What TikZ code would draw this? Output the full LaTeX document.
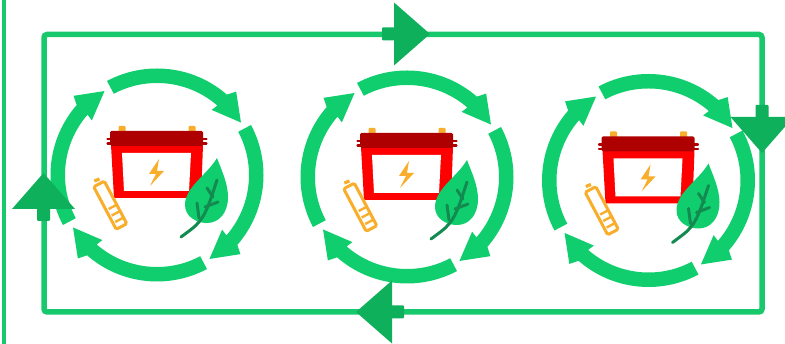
\documentclass[tikz,border=0pt]{standalone}
\usepackage{xcolor}
\usetikzlibrary{calc}
\definecolor{ringGreen}{RGB}{16,206,110}
\definecolor{loopGreen}{RGB}{24,200,108}
\definecolor{headGreen}{RGB}{15,176,92}
\definecolor{veinGreen}{RGB}{18,138,80}
\definecolor{lidRed}{RGB}{174,0,0}
\definecolor{bodyRed}{RGB}{255,0,0}
\definecolor{chargeOrange}{RGB}{249,174,43}
\tikzset{
  loopLine/.style={draw=loopGreen, line width=5.5pt, rounded corners=3pt},
  sideLine/.style={draw=loopGreen, line width=3.5pt},
  ringFill/.style={fill=ringGreen},
  headFill/.style={fill=headGreen},
  chargeLine/.style={draw=chargeOrange, line width=3pt},
  veinLine/.style={draw=veinGreen, line width=3pt, line cap=round},
  lipLine/.style={draw=lidRed, line width=2.2pt, line cap=round},
  loopHead/.pic={
    \fill[headFill, rounded corners=1pt] (-12,-6.5) rectangle (2,6.5);
    \fill[headFill] (0,-31.5) -- (36,0) -- (0,31.5) -- cycle;
  },
  recycleUnit/.pic={
    % four arrows of the ring
    \foreach \turn in {0,-90,-180,-270} {
      \fill[ringFill, rotate=\turn] (118:106.5) arc (118:49:106.5)
        -- (46.5:115) -- (32:99) -- (50:85) -- (49:92) arc (49:118:92) -- cycle;
    }
    % battery
    \fill[chargeOrange, rounded corners=1pt] (-38.5,49) rectangle (-31.5,40);
    \fill[chargeOrange, rounded corners=1pt] (31.5,49) rectangle (38.5,40);
    \fill[bodyRed] (-46,30) -- (46,30) -- (44,-23) -- (-43,-23) -- cycle;
    \fill[white] (-35,22) -- (34,22) -- (32,-16) -- (-33,-16) -- cycle;
    \fill[lidRed, rounded corners=1.5pt] (-47,44) rectangle (46,29);
    \draw[lipLine] (-49.5,36) -- (49.5,36);
    \draw[lipLine] (-49.5,31.5) -- (49.5,31.5);
    \fill[chargeOrange] (2,16) -- (-8,1) -- (-1,1) -- (-7,-11) -- (7,4) -- (0,4) -- cycle;
    % small cell
    \draw[chargeLine, rounded corners=1.5pt] (-52.7,-6.2) -- (-63.3,-11.8) -- (-40.8,-54.3) -- (-30.2,-48.7) -- cycle;
    \draw[chargeLine, line width=5.5pt] (-59.5,-6.5) -- (-60.7,-3.5);
    \foreach \cx/\cy in {-44.5/-32, -41.5/-38.5, -38/-45} {
      \draw[chargeLine, line width=2.4pt] (\cx-3.8,\cy-2) -- (\cx+3.8,\cy+2);
    }
    % leaf
    \fill[ringFill] (60,17) .. controls (50,0) and (28,-12) .. (28,-30)
      .. controls (28,-42) and (40,-48) .. (50,-48)
      .. controls (62,-48) and (71,-38) .. (71,-22)
      .. controls (71,-8) and (64,6) .. (60,17) -- cycle;
    \draw[veinLine] (24,-62) .. controls (32,-56) and (38,-52) .. (42,-47)
      .. controls (50,-38) and (55,-20) .. (60,-5);
    \draw[veinLine] (40,-28) -- (42,-43);
    \draw[veinLine] (61,-27) -- (48,-32);
    \draw[veinLine] (50,-13) -- (56,-22);
  }
}
\begin{document}
\begin{tikzpicture}[x=1pt, y=1pt]
  \clip (0,0) rectangle (785,344);
  \fill[white] (0,0) rectangle (785,344);

  \coordinate (barTop) at (4,344);
  \coordinate (barBottom) at (4,0);
  \coordinate (cornerNW) at (44,309.5);
  \coordinate (cornerNE) at (762,309.5);
  \coordinate (cornerSE) at (762,32);
  \coordinate (cornerSW) at (44,32);

  \draw[sideLine] (barTop) -- (barBottom);
  \draw[loopLine] (cornerNW) -- (cornerNE) -- (cornerSE) -- (cornerSW) -- cycle;

  \pic at (157,169) {recycleUnit};
  \pic at (407,167) {recycleUnit};
  \pic at (648.5,163.5) {recycleUnit};

  \pic at (394,310) {loopHead};
  \pic[rotate=-90] at (762,227) {loopHead};
  \pic[rotate=180] at (392,32) {loopHead};
  \pic[rotate=90] at (43.5,135) {loopHead};
\end{tikzpicture}
\end{document}
